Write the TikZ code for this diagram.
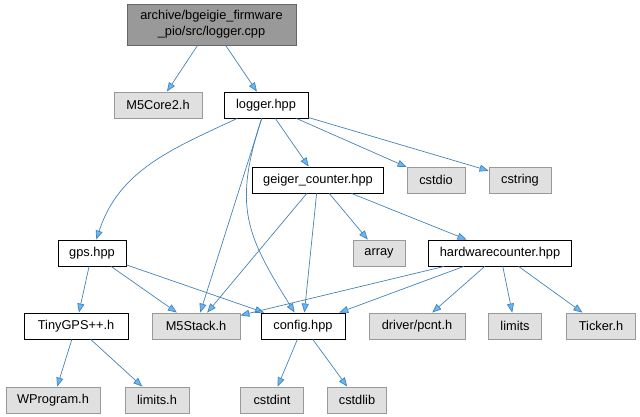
\documentclass[tikz,border=0pt]{standalone}
\usepackage{fontspec}
\setmainfont{Liberation Sans}
\usetikzlibrary{arrows.meta}
\definecolor{edgeblue}{RGB}{70,130,180}
\definecolor{headblue}{RGB}{99,184,255}
\definecolor{sysgray}{RGB}{224,224,224}
\tikzset{
  box/.style={rectangle,inner sep=0pt,minimum height=26pt,line width=0.9pt},
  hdr/.style={box,draw=black,fill=white},
  sys/.style={box,draw=gray!80,fill=sysgray},
  top/.style={box,draw=black!60,fill=black!40,minimum height=41pt,align=center},
  dep/.style={draw=edgeblue,line width=0.7pt,-{Triangle[length=9pt,width=7pt,fill=headblue]}}
}
\begin{document}
\begin{tikzpicture}[x=1pt,y=-1pt,font=\fontsize{12.8}{16}\selectfont]
	\useasboundingbox (0,0) rectangle (640,417);
	\node[top,minimum width=169pt] (root) at (211.5,24.5) {archive/bgeigie\_firmware\\\_pio/src/logger.cpp};
	\foreach \n/\x/\y/\w/\s/\t in {m5core2/158/105/88/sys/M5Core2.h, logger/266/105/84/hdr/logger.hpp,
		geiger/318/180/131/hdr/geiger\_counter.hpp, cstdio/436/180/58/sys/cstdio, cstring/520/180/62/sys/cstring,
		gps/92/253/68/hdr/gps.hpp, array/379/253/52/sys/array, hwc/500/253/143/hdr/hardwarecounter.hpp,
		tinygps/76/326/104/hdr/TinyGPS++.h, m5stack/196/326/88/sys/M5Stack.h, config/303/326/84/hdr/config.hpp,
		pcnt/417/326/96/sys/{driver/pcnt.h}, limits/515/326/53/sys/limits, ticker/601/326/69/sys/Ticker.h,
		wprogram/53/400/94/sys/WProgram.h, limitsh/157/400/64/sys/limits.h, cstdint/272/400/63/sys/cstdint,
		cstdlib/357/400/59/sys/cstdlib}{
		\node[\s,minimum width=\w pt] (\n) at (\x,\y) {\t};
	}
	\foreach \a/\b in {root/m5core2, root/logger, logger/geiger, logger/cstdio, logger/cstring, logger/m5stack,
		geiger/m5stack, geiger/config, geiger/array, geiger/hwc, gps/tinygps, gps/m5stack, gps/config,
		hwc/m5stack, hwc/config, hwc/pcnt, hwc/limits, hwc/ticker, tinygps/wprogram, tinygps/limitsh,
		config/cstdint, config/cstdlib}{
		\draw[dep] (\a) -- (\b);
	}
	\draw[dep] (logger) to[out=-155,in=72] (gps);
	\draw[dep] (logger) to[out=-108,in=122,looseness=1.2] (config);
\end{tikzpicture}
\end{document}
